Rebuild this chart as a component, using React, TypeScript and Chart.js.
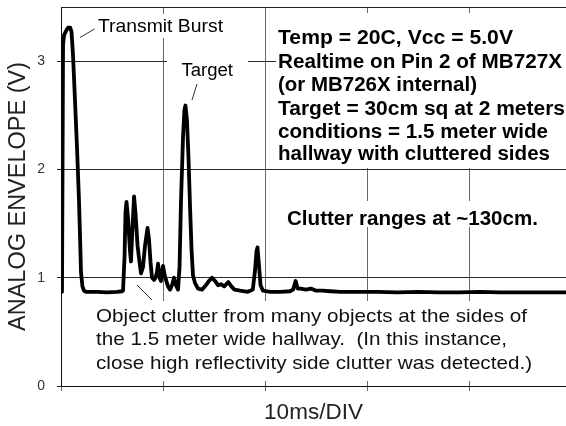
import { useEffect, useRef } from "react";
import { Chart, registerables } from "chart.js";

Chart.register(...registerables);

// ---- data (time in ms, envelope in volts) ----
const timeMs = [
  0.1, 0.2, 0.3, 0.5, 0.7, 0.9, 1.03, 1.18, 1.37, 1.57, 1.76, 1.86, 1.96, 2.1, 2.25, 2.45,
  3.5, 4.5, 5.5, 6.0, 6.08, 6.23, 6.32, 6.42, 6.57, 6.76, 6.86, 7.0, 7.16, 7.3, 7.5, 7.65,
  7.84, 8.04, 8.24, 8.48, 8.63, 8.77, 8.92, 9.12, 9.26, 9.41, 9.51, 9.66, 9.8, 9.9, 10.0,
  10.15, 10.29, 10.49, 10.69, 10.88, 11.08, 11.27, 11.47, 11.62, 11.76, 11.96, 12.1, 12.2,
  12.35, 12.5, 12.65, 12.8, 12.94, 13.14, 13.43, 13.82, 14.2, 14.5, 14.8, 15.1, 15.4, 15.7,
  16.0, 16.4, 16.7, 17.0, 17.55, 18.3, 18.8, 19.0, 19.17, 19.26, 19.4, 19.56, 19.8, 20.5,
  21.5, 22.45, 22.75, 23.0, 23.2, 23.5, 24.0, 24.5, 25.0, 25.6, 26.4, 27.4, 29.0, 31.0,
  33.0, 35.0, 37.0, 39.0, 41.0, 43.0, 45.0, 47.0, 49.5,
];
const envelopeV = [
  0.87, 3.15, 3.24, 3.28, 3.31, 3.31, 3.27, 3.05, 2.64, 2.2, 1.72, 1.4, 1.05, 0.92, 0.88, 0.87,
  0.87, 0.865, 0.87, 0.875, 0.88, 1.2, 1.6, 1.7, 1.55, 1.25, 1.15, 1.45, 1.75, 1.6, 1.3, 1.18,
  1.04, 1.1, 1.3, 1.46, 1.35, 1.15, 1.0, 0.98, 1.0, 1.05, 1.13, 1.0, 0.97, 1.05, 1.11,
  1.03, 0.98, 0.92, 0.89, 0.93, 1.0, 0.93, 0.89, 1.1, 1.7, 2.3, 2.55, 2.59,
  2.45, 2.1, 1.65, 1.25, 1.02, 0.95, 0.9, 0.89, 0.93, 0.97, 1.0, 0.97, 0.93, 0.94,
  0.92, 0.96, 0.92, 0.89, 0.88, 0.87, 0.89, 1.05, 1.25, 1.28, 1.12, 0.93, 0.88, 0.87,
  0.87, 0.875, 0.89, 0.97, 0.9, 0.9, 0.89, 0.9, 0.88, 0.88, 0.875, 0.87, 0.87, 0.87,
  0.865, 0.87, 0.865, 0.865, 0.87, 0.865, 0.865, 0.865, 0.865,
];
const yTickValues = [0, 1, 2, 3];
const xTitle = "10ms/DIV";
const yTitle = "ANALOG ENVELOPE (V)";
const burstLabel = "Transmit Burst";
const targetLabel = "Target";
const infoLines = [
  "Temp = 20C, Vcc = 5.0V",
  "Realtime on Pin 2 of MB727X",
  "(or MB726X internal)",
  "Target = 30cm sq at 2 meters",
  "conditions = 1.5 meter wide",
  "hallway with cluttered sides",
];
const clutterNote = "Clutter ranges at ~130cm.";
const bottomNote = [
  "Object clutter from many objects at the sides of",
  "the 1.5 meter wide hallway.  (In this instance,",
  "close high reflectivity side clutter was detected.)",
];

const FONT = '"Liberation Sans", Arial, sans-serif';

function fitText(
  ctx: CanvasRenderingContext2D,
  text: string,
  x: number,
  y: number,
  width: number,
  size: number,
  bold: boolean
) {
  ctx.font = `${bold ? "bold " : ""}${size}px ${FONT}`;
  const m = ctx.measureText(text).width;
  ctx.save();
  ctx.translate(x, y);
  ctx.scale(width / m, 1);
  ctx.textAlign = "left";
  ctx.textBaseline = "alphabetic";
  ctx.fillText(text, 0, 0);
  ctx.restore();
}

const annotatePlugin = {
  id: "annotate",
  beforeDatasetsDraw(chart: any) {
    const ctx: CanvasRenderingContext2D = chart.ctx;
    const a = chart.chartArea;
    ctx.save();
    // top frame line
    ctx.strokeStyle = "#222";
    ctx.lineWidth = 1;
    ctx.beginPath();
    ctx.moveTo(a.left, Math.round(a.top) + 0.5);
    ctx.lineTo(a.right, Math.round(a.top) + 0.5);
    ctx.stroke();

    // white label backgrounds (hide grid lines behind text)
    ctx.fillStyle = "#fff";
    ctx.fillRect(94, 14, 133, 24);
    ctx.fillRect(167, 54, 81, 30);
    ctx.fillRect(276, 13, 290, 155);
    ctx.fillRect(283, 201, 262, 26);
    ctx.fillRect(92, 301, 474, 80);

    ctx.fillStyle = "#000";
    fitText(ctx, burstLabel, 98, 31.5, 125, 19, false);
    fitText(ctx, targetLabel, 181.5, 76, 51.5, 18, false);

    const infoW = [235, 284, 199, 287, 270, 272];
    const infoBase = [44, 68, 91, 114.5, 137.5, 160];
    infoLines.forEach((t, i) => fitText(ctx, t, 278, infoBase[i], infoW[i], 20, true));

    fitText(ctx, clutterNote, 287, 224.5, 251, 20, true);

    ctx.fillStyle = "#111";
    const botW = [431, 411, 436];
    const botBase = [321.5, 345, 368.5];
    bottomNote.forEach((t, i) => fitText(ctx, t, 96, botBase[i], botW[i], 19, false));

    // leader lines
    ctx.strokeStyle = "#333";
    ctx.lineWidth = 1;
    ctx.beginPath();
    ctx.moveTo(80, 37.5);
    ctx.lineTo(94.5, 29);
    ctx.moveTo(192, 100);
    ctx.lineTo(197, 84);
    ctx.moveTo(137, 285);
    ctx.lineTo(152, 300);
    ctx.stroke();
    ctx.restore();
  },
};

export default function App() {
  const ref = useRef<HTMLCanvasElement | null>(null);

  useEffect(() => {
    if (!ref.current) return;
    const points = timeMs.map((t, i) => ({ x: t, y: envelopeV[i] }));
    const chart = new Chart(ref.current, {
      type: "line",
      data: {
        datasets: [
          {
            data: points,
            borderColor: "#000",
            borderWidth: 3.8,
            pointRadius: 0,
            tension: 0,
            fill: false,
            borderJoinStyle: "round",
            borderCapStyle: "round",
          },
        ],
      },
      options: {
        responsive: false,
        animation: false,
        events: [],
        layout: { padding: { top: 7, left: 0, right: 0, bottom: 0 } },
        plugins: {
          legend: { display: false },
          tooltip: { enabled: false },
        },
        scales: {
          x: {
            type: "linear",
            min: 0,
            max: 49.5,
            ticks: { display: false, stepSize: 10, includeBounds: false },
            grid: { color: "#6a6a6a", lineWidth: 1, tickLength: 5 },
            border: { color: "#111", width: 1 },
            title: {
              display: true,
              text: xTitle,
              color: "#222",
              font: { family: FONT, size: 22.5 },
              padding: { top: 0, bottom: 0 },
            },
            afterFit: (s: any) => {
              s.height = 40;
              s.paddingLeft = 0;
              s.paddingRight = 0;
            },
          },
          y: {
            type: "linear",
            min: 0,
            max: 3.5,
            afterBuildTicks: (s: any) => {
              s.ticks = yTickValues.map((v) => ({ value: v }));
            },
            ticks: {
              stepSize: 1,
              includeBounds: false,
              padding: 12,
              color: "#333",
              font: { family: FONT, size: 14 },
            },
            grid: { color: "#2a2a2a", lineWidth: 1, tickLength: 4 },
            border: { color: "#111", width: 1 },
            title: {
              display: true,
              text: yTitle,
              color: "#222",
              font: { family: FONT, size: 23.5 },
              padding: { top: 4, bottom: 0 },
            },
            afterFit: (s: any) => {
              s.width = 61;
              s.paddingTop = 0;
              s.paddingBottom = 0;
            },
          },
        },
      },
      plugins: [annotatePlugin],
    });
    return () => chart.destroy();
  }, []);

  return (
    <div style={{ position: "fixed", left: 0, top: 0, width: 566, height: 426, background: "#fff" }}>
      <canvas ref={ref} width={566} height={426} style={{ display: "block" }} />
    </div>
  );
}
